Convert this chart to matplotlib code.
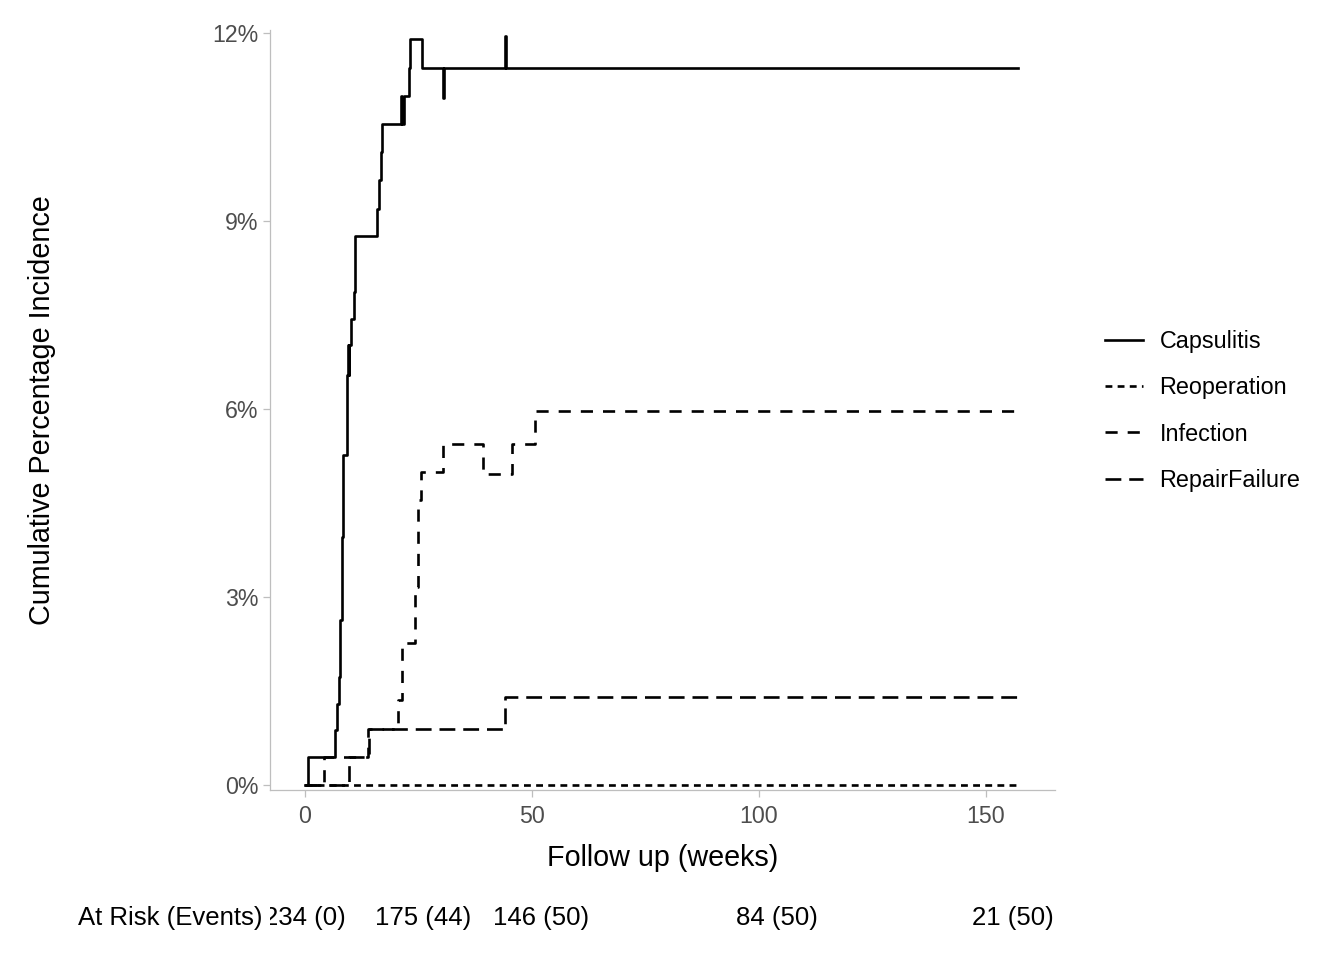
import matplotlib
matplotlib.use('Agg')
from matplotlib import pyplot as plt

# 累积发生率（%），按周
capsulitis_weeks = [0, 0.74, 6.6, 7.0, 7.4, 7.7, 8.1, 8.4, 9.2, 9.5, 9.6, 9.7, 10.1, 10.8, 11.0,
                    15.9, 16.3, 16.7, 16.9, 21.1, 21.3, 21.9, 23.0, 23.2, 25.8, 30.5, 30.6,
                    44.0, 44.3, 157.0]
capsulitis_pct = [0, 0.44, 0.88, 1.30, 1.73, 2.63, 3.96, 5.27, 6.54, 7.02, 6.54, 7.02, 7.43, 7.87, 8.76,
                  9.20, 9.65, 10.10, 10.55, 11.00, 10.55, 11.00, 11.44, 11.90, 11.44, 10.96, 11.44,
                  11.96, 11.44, 11.44]

reoperation_weeks = [0, 157.0]
reoperation_pct = [0, 0]

infection_weeks = [0, 4.2, 13.9, 20.6, 21.4, 24.2, 24.9, 25.6, 30.5, 39.3, 45.5, 50.7, 157.0]
infection_pct = [0, 0.44, 0.90, 1.35, 2.26, 3.16, 4.55, 4.99, 5.44, 4.96, 5.44, 5.97, 5.97]

repair_weeks = [0, 9.8, 14.1, 44.0, 157.0]
repair_pct = [0, 0.44, 0.90, 1.40, 1.40]

# 风险表
risk_times = [0, 26, 52, 104, 156]
risk_n = [234, 175, 146, 84, 21]
risk_events = [0, 44, 50, 50, 50]

y_ticks = [0, 3, 6, 9, 12]
x_ticks = [0, 50, 100, 150]

plt.rcParams['font.family'] = ['Liberation Sans', 'DejaVu Sans']

W, H = 1344, 960
fig = plt.figure(figsize=(W / 100, H / 100), dpi=100)
ax = fig.add_axes([270 / W, 1 - 790 / H, 785 / W, 760 / H])

grey = '#BEBEBE'
lw = 1.9
ax.step(capsulitis_weeks, capsulitis_pct, where='post', color='black', lw=lw,
        label='Capsulitis')
ax.step(reoperation_weeks, reoperation_pct, where='post', color='black', lw=lw,
        dashes=(2.6, 2.0), label='Reoperation')
ax.step(infection_weeks, infection_pct, where='post', color='black', lw=lw,
        dashes=(4.6, 3.8), label='Infection')
ax.step(repair_weeks, repair_pct, where='post', color='black', lw=lw,
        dashes=(6.0, 3.0), label='RepairFailure')

ax.set_xlim(-7.7, 165.2)
ax.set_ylim(-0.08, 12.05)
ax.set_xticks(x_ticks)
ax.set_yticks(y_ticks)
ax.set_yticklabels([f'{v}%' for v in y_ticks])
ax.tick_params(colors=grey, labelcolor='#4D4D4D', labelsize=16.7, length=5, width=0.9)
ax.tick_params(axis='x', pad=6)
for s in ['top', 'right']:
    ax.spines[s].set_visible(False)
for s in ['left', 'bottom']:
    ax.spines[s].set_color(grey)
    ax.spines[s].set_linewidth(0.9)

ax.set_xlabel('Follow up (weeks)', fontsize=20.7)
ax.xaxis.set_label_coords(0.5, (790 - 858) / 760)
ax.xaxis.label.set_va('center')
ax.set_ylabel('Cumulative Percentage Incidence', fontsize=20.7)
ax.yaxis.set_label_coords((42 - 270) / 785, 0.5)
ax.yaxis.label.set_va('center')

leg = ax.legend(loc='center left', bbox_to_anchor=(1105 / W, 1 - 411 / H),
                bbox_transform=fig.transFigure, frameon=False, fontsize=16.8,
                handlelength=1.62, handletextpad=0.72, labelspacing=1.0,
                borderpad=0, borderaxespad=0)

# 风险表
tab = fig.add_axes([270 / W, 1 - 940 / H, 785 / W, 45 / H])
tab.set_xlim(ax.get_xlim())
tab.set_ylim(0, 1)
tab.axis('off')
for t, n, e in zip(risk_times, risk_n, risk_events):
    tab.text(t, 0.5, f'{n} ({e})', ha='center', va='center', fontsize=18.5, clip_on=True)
fig.text(262 / W, 1 - 918 / H, 'At Risk (Events)', ha='right', va='center', fontsize=18.5)

fig.savefig('out.png', dpi=100)
